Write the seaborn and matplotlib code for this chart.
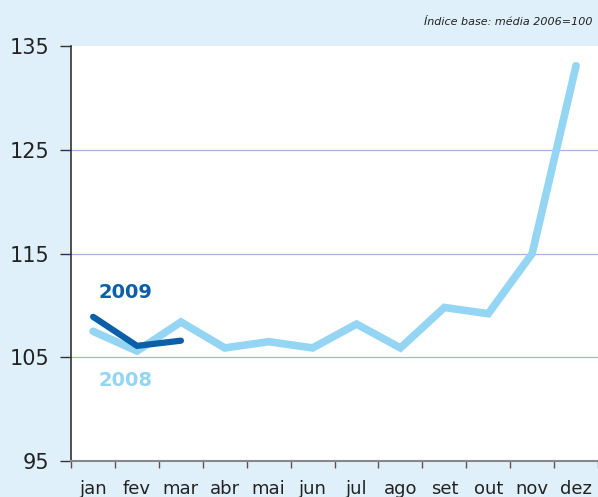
import matplotlib.pyplot as plt
import seaborn as sns
import pandas as pd
import numpy as np

# Dataset
months = ['jan', 'fev', 'mar', 'abr', 'mai', 'jun', 'jul', 'ago', 'set', 'out', 'nov', 'dez']
idx_2008 = [107.5, 105.6, 108.4, 105.9, 106.5, 105.9, 108.2, 105.9, 109.8, 109.2, 115.0, 133.1]
idx_2009 = [108.9, 106.1, 106.6]
y_ticks = [95, 105, 115, 125, 135]

df08 = pd.DataFrame({'mes': months, 'valor': idx_2008})
df09 = pd.DataFrame({'mes': months[:len(idx_2009)], 'valor': idx_2009})

sns.set_style('white')
plt.rcParams['font.family'] = ['DejaVu Sans']

bg = '#dff0fa'
c08 = '#93d5f2'
c09 = '#0b5ea8'

fig = plt.figure(figsize=(5.98, 4.97), dpi=100, facecolor=bg)
ax = fig.add_axes([0.119, 0.0724, 0.881, 0.835])
ax.set_facecolor('white')

sns.lineplot(data=df08, x='mes', y='valor', color=c08, linewidth=5.5,
             solid_capstyle='round', solid_joinstyle='miter', ax=ax, sort=False)
sns.lineplot(data=df09, x='mes', y='valor', color=c09, linewidth=4.5,
             solid_capstyle='round', solid_joinstyle='miter', ax=ax, sort=False)

ax.set_ylim(95, 135)
ax.set_xlim(-0.5, 11.5)
ax.set_yticks(y_ticks)
ax.set_yticklabels([str(v) for v in y_ticks], fontsize=15, color='#222222')
ax.set_xticks(range(12))
ax.set_xticklabels(months, fontsize=13, color='#222222')
ax.set_xticks(np.arange(-0.5, 12, 1), minor=True)
ax.tick_params(axis='x', which='major', length=0, pad=14, bottom=False)
ax.tick_params(axis='x', which='minor', length=5, width=1, color='#555555',
               direction='out', bottom=True)
ax.tick_params(axis='y', length=8, width=1, color='#333333', direction='out', pad=8, left=True)
ax.set_xlabel('')
ax.set_ylabel('')

for y in y_ticks[1:-1]:
    ax.axhline(y, color='#aab4e0', linewidth=0.9, zorder=0)

for side in ['top', 'right']:
    ax.spines[side].set_visible(False)
ax.spines['left'].set_color('#333333')
ax.spines['left'].set_linewidth(1.2)
ax.spines['bottom'].set_color('#888888')
ax.spines['bottom'].set_linewidth(1.5)

ax.text(0.12, 110.7, '2009', color=c09, fontsize=14, fontweight='bold')
ax.text(0.12, 102.2, '2008', color=c08, fontsize=14, fontweight='bold')

fig.text(0.99, 0.955, 'Índice base: média 2006=100', ha='right', va='center',
         fontsize=8, style='italic', color='#222222')

plt.savefig('out.png', dpi=100, facecolor=bg)
